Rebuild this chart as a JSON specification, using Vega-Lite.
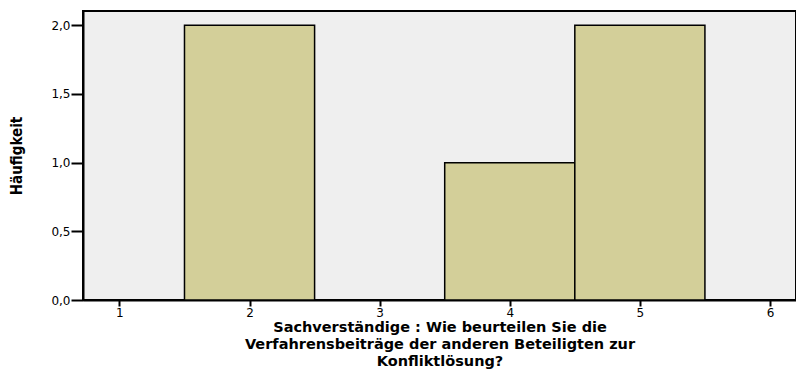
{
  "$schema": "https://vega.github.io/schema/vega-lite/v6.json",
  "width": 713,
  "height": 289,
  "autosize": {"type": "none"},
  "padding": {"left": 83, "top": 11, "right": 0, "bottom": 70},
  "background": "white",
  "config": {
    "view": {"fill": "#efefef", "stroke": "black", "strokeWidth": 2},
    "axis": {"grid": false, "domainColor": "black", "domainWidth": 2, "tickColor": "black", "tickWidth": 2, "labelColor": "black", "titleColor": "black", "labelFont": "DejaVu Sans", "titleFont": "DejaVu Sans"}
  },
  "data": {"values": [
    {"start": 1.5, "end": 2.5, "count": 2},
    {"start": 3.5, "end": 4.5, "count": 1},
    {"start": 4.5, "end": 5.5, "count": 2}
  ]},
  "mark": {"type": "rect", "fill": "#d3cf99", "stroke": "black", "strokeWidth": 1.5, "clip": true},
  "encoding": {
    "x": {"field": "start", "type": "quantitative",
      "scale": {"domain": [0.72, 6.2], "nice": false, "zero": false},
      "axis": {"values": [1, 2, 3, 4, 5, 6], "format": "d", "labelFontSize": 12, "tickSize": 6, "labelPadding": 1,
        "title": ["Sachverständige : Wie beurteilen Sie die", "Verfahrensbeiträge der anderen Beteiligten zur", "Konfliktlösung?"],
        "titleFontSize": 14.5, "titleFontWeight": "bold", "titleLineHeight": 17, "titlePadding": 2}},
    "x2": {"field": "end"},
    "y": {"field": "count", "type": "quantitative",
      "scale": {"domain": [0, 2.104], "nice": false},
      "axis": {"values": [0, 0.5, 1, 1.5, 2], "labelExpr": "replace(format(datum.value, '.1f'), '.', ',')", "labelFontSize": 12, "tickSize": 12, "labelPadding": 1,
        "title": "Häufigkeit", "titleFontSize": 15, "titleFontWeight": "bold", "titleFont": "DejaVu Sans Condensed", "titlePadding": 26}},
    "y2": {"datum": 0}
  }
}
